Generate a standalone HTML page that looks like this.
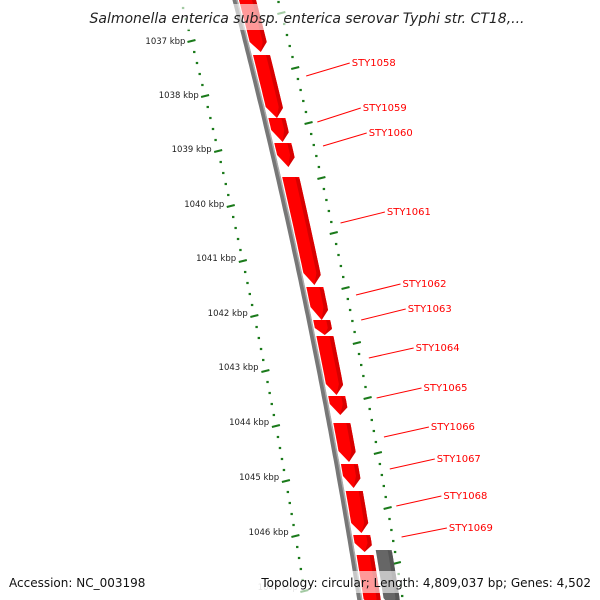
<!DOCTYPE html>
<html><head><meta charset="utf-8"><style>
html,body{margin:0;padding:0;background:#fff}
svg{display:block}
text{font-family:"DejaVu Sans","Liberation Sans",sans-serif}
</style></head><body>
<svg id="map" width="600" height="600" viewBox="0 0 600 600">
<g id="ticksL"></g>
<g id="ticksR"></g>
<g id="backbone"></g>
<g id="genes"></g>
<g id="labels"></g>
<rect x="80" y="4" width="450" height="26" fill="#fff" opacity="0.6"/>
<text x="307" y="23" text-anchor="middle" font-size="14" font-style="italic" fill="#222">Salmonella enterica subsp. enterica serovar Typhi str. CT18,...</text>
<rect x="258" y="571" width="338" height="22" fill="#fff" opacity="0.6"/>
<text x="9" y="587" font-size="12" fill="#111">Accession: NC_003198</text>
<text x="591" y="587" font-size="12" fill="#111" text-anchor="end">Topology: circular; Length: 4,809,037 bp; Genes: 4,502</text>
</svg>
<script>
const geneStarts=[-10,55,118,143,177,287,320,336,396,423,464,491,535,555];
const geneEnds=[52,118,142,167,285,320,335,395,415,462,488,533,552,610];
const revStarts=[550];
const revEnds=[610];
const kbpLabels=["1037 kbp","1038 kbp","1039 kbp","1040 kbp","1041 kbp","1042 kbp","1043 kbp","1044 kbp","1045 kbp","1046 kbp","1047 kbp"];
const kbpY=[41,95,149,204,258,313,367,422,477,532,587];
const geneNames=["STY1058","STY1059","STY1060","STY1061","STY1062","STY1063","STY1064","STY1065","STY1066","STY1067","STY1068","STY1069"];
const labelY=[62,107,132,211,283,308,347,387,426,458,495,527];
const anchorY=[76,122,146,223,295,320,358,398,437,469,506,537];

const NS="http://www.w3.org/2000/svg";
function base(y){return 233+0.259*y-0.000085*y*y;}
function mk(tag,attrs,parent){const e=document.createElementNS(NS,tag);for(const k in attrs)e.setAttribute(k,attrs[k]);parent.appendChild(e);return e;}
function pts(arr){return arr.map(p=>p[0].toFixed(1)+","+p[1].toFixed(1)).join(" ");}

const bb=document.getElementById('backbone');
let lp=[],lp2=[];
for(let y=-5;y<=605;y+=5){lp.push([base(y)+2,y]);lp2.push([base(y)+4,y]);}
const bl=mk('polyline',{points:pts(lp),fill:'none',stroke:'#777',"stroke-width":5},bb);


const bl2=mk('polyline',{points:pts(lp2),fill:'none',stroke:'#aaa',"stroke-width":1.5},bb);



function scale(gid,off,majorStart){
  const g=document.getElementById(gid);
  for(let y=majorStart-55*2;y<605;y+=11){
    if(y<-5)continue;
    const k=Math.round((y-majorStart)/11);
    const major=((k%5)+5)%5===0;
    const x=base(y)+off;
    const d=mk('line',{x1:x-(major?4:1.2),y1:y+(major?1:0),x2:x+(major?4:1.2),y2:y-(major?1:0),stroke:'#1a7a1a',"stroke-width":major?2:2.2},g);
    
    
  }
}
scale('ticksL',-52,41);
scale('ticksR',45,68);
const tl=document.getElementById('ticksL');
kbpY.forEach((y,i)=>{
  const t=mk('text',{x:base(y)-58,y:y+3,"font-size":8.5,fill:'#222',"text-anchor":'end'},tl);
  t.textContent=kbpLabels[i];
  
  
  if(i===kbpLabels.length-1)t.setAttribute('opacity','0.3');
});

function gene(y0,y1,off,w,fill,dark,parent,name){
  const tipLen=Math.min(10,(y1-y0)*0.4);
  const L=[],R=[];
  for(let y=y0;y<=y1-tipLen;y+=4){L.push([base(y)+off,y]);R.push([base(y)+off+w,y]);}
  const ym=y1-tipLen;
  const tip=[base(y1)+off+w/2,y1];
  const poly=L.concat([tip]).concat(R.reverse());
  const p=mk('polygon',{points:pts(poly),fill:fill},parent);
  
  
  const S=[];
  for(let y=y0;y<=ym;y+=4){S.push([base(y)+off+w-4,y]);}
  const S2=[];for(let y=ym;y>=y0;y-=4){S2.push([base(y)+off+w,y]);}
  const s=mk('polygon',{points:pts(S.concat([tip]).concat(S2)),fill:dark},parent);
  
  
}
const gg=document.getElementById('genes');
geneStarts.forEach((s,i)=>gene(s,geneEnds[i],6,17,'#ff0000','#d80000',gg,'gene'));
revStarts.forEach((s,i)=>gene(s,revEnds[i],26,16,'#666','#555',gg,'reverse-gene'));

const lb=document.getElementById('labels');
geneNames.forEach((n,i)=>{
  const ax=base(anchorY[i])+54;
  const tx=base(labelY[i])+103;
  const l=mk('line',{x1:ax,y1:anchorY[i],x2:tx-2,y2:labelY[i]+1,stroke:'#f00',"stroke-width":1},lb);
  
  
  const t=mk('text',{x:tx,y:labelY[i]+4,"font-size":10,fill:'#f00'},lb);
  t.textContent=n;
  
  
});
</script>
</body></html>
